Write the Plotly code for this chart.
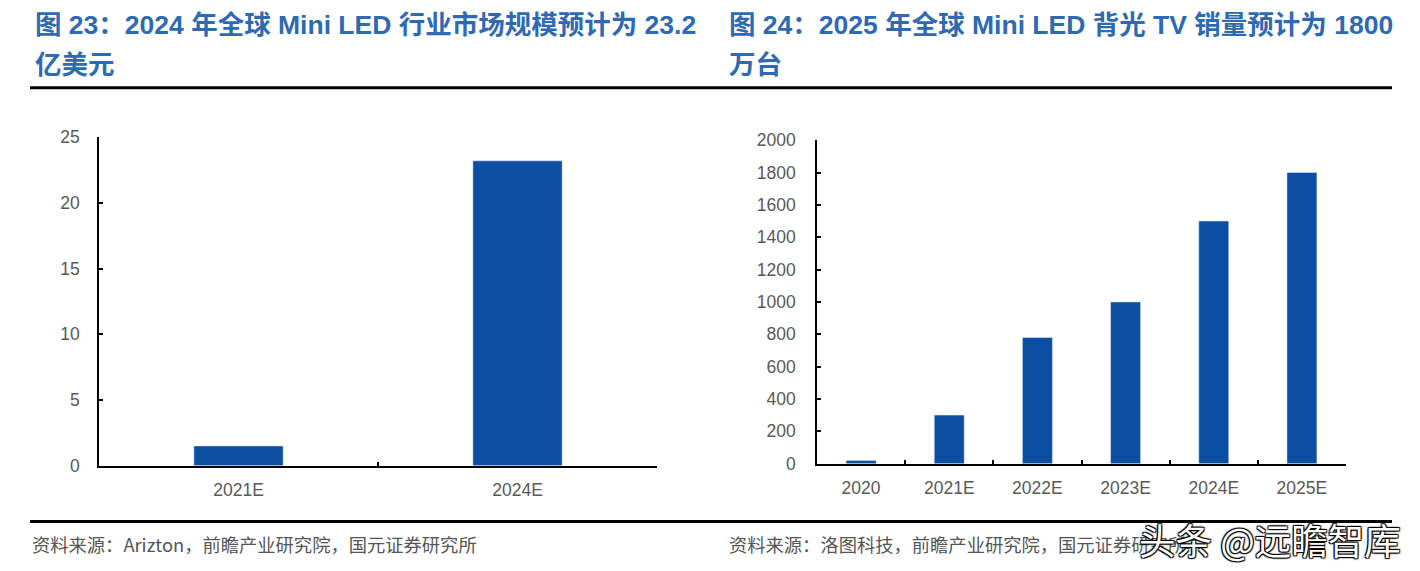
import plotly.graph_objects as go

# ---- data ----
left_categories = ["2021E", "2024E"]
left_values = [1.5, 23.2]
right_categories = ["2020", "2021E", "2022E", "2023E", "2024E", "2025E"]
right_values = [20, 300, 780, 1000, 1500, 1800]

left_title_1 = "图 23：2024 年全球 Mini LED 行业市场规模预计为 23.2"
left_title_2 = "亿美元"
right_title_1 = "图 24：2025 年全球 Mini LED 背光 TV 销量预计为 1800"
right_title_2 = "万台"
left_source = "资料来源：Arizton，前瞻产业研究院，国元证券研究所"
right_source = "资料来源：洛图科技，前瞻产业研究院，国元证券研究所"
watermark = "头条 @远瞻智库"

W, H = 1420, 571
BAR = "#0C4EA2"
TITLE = "#2E6AB4"
TICKC = "#595959"
FONT = "Liberation Sans, Arial, Noto Sans CJK SC, sans-serif"
CJK = "Noto Sans CJK SC, Liberation Sans, sans-serif"

# empirical mapping of the photographed page (vertical)
VOFF, VSCALE = 9.6, 0.9666


def px(x):
    return x / W


def py(s):
    return 1 - ((s - VOFF) / VSCALE) / H


fig = go.Figure()
fig.add_trace(go.Bar(x=left_categories, y=left_values, marker_color=BAR,
                     width=0.32, xaxis="x", yaxis="y", showlegend=False))
fig.add_trace(go.Bar(x=right_categories, y=right_values, marker_color=BAR,
                     width=0.34, xaxis="x2", yaxis="y2", showlegend=False))

axis_common = dict(showline=True, linecolor="black", linewidth=1.6,
                   ticks="inside", ticklen=4, tickwidth=1.6, tickcolor="black",
                   showgrid=False, zeroline=False,
                   tickfont=dict(family=FONT, size=17.5, color=TICKC))

fig.update_layout(
    width=W, height=H,
    margin=dict(l=0, r=0, t=0, b=0),
    paper_bgcolor="white", plot_bgcolor="white",
    xaxis=dict(domain=[px(99), px(657)], anchor="y", type="category",
               range=[-0.5, 1.5], tickson="boundaries", ticklabelstandoff=8,
               **axis_common),
    yaxis=dict(domain=[py(466), py(137)], anchor="x", range=[0, 25], dtick=5,
               ticklabelstandoff=14, **axis_common),
    xaxis2=dict(domain=[px(817), px(1346)], anchor="y2", type="category",
                range=[-0.5, 5.5], tickson="boundaries", ticklabelstandoff=8,
                **axis_common),
    yaxis2=dict(domain=[py(464), py(140)], anchor="x2", range=[0, 2000], dtick=200,
                ticklabelstandoff=16, **axis_common),
)

# horizontal rules
for y in (87.5, 522):
    fig.add_shape(type="line", xref="paper", yref="paper",
                  x0=px(30), x1=px(1392), y0=py(y), y1=py(y),
                  line=dict(color="black", width=3))

ann = []
for x0, t1, t2 in ((33, left_title_1, left_title_2), (727, right_title_1, right_title_2)):
    ann.append(dict(text="<b>%s</b>" % t1, x=px(x0), y=py(25), xanchor="left", yanchor="middle",
                    font=dict(family=FONT, size=26.5, color=TITLE)))
    ann.append(dict(text="<b>%s</b>" % t2, x=px(x0), y=py(65), xanchor="left", yanchor="middle",
                    font=dict(family=FONT, size=26.5, color=TITLE)))
for x0, s in ((30, left_source), (727, right_source)):
    ann.append(dict(text=s, x=px(x0), y=py(545), xanchor="left", yanchor="middle",
                    font=dict(family=CJK, size=18.3, color="#555555")))
ann.append(dict(text=watermark, x=px(1403), y=py(540), xanchor="right", yanchor="middle",
                font=dict(family=CJK, size=36.5, color="white",
                          shadow="1px 1px 1px #000, -1px -1px 1px #000, 1px -1px 1px #000, -1px 1px 1px #000")))
for a in ann:
    a.update(xref="paper", yref="paper", showarrow=False)
fig.update_layout(annotations=ann)

fig.write_html("out.html",
               config={"displayModeBar": False},
               post_script="document.body.style.margin='0';document.body.style.overflow='hidden';")
